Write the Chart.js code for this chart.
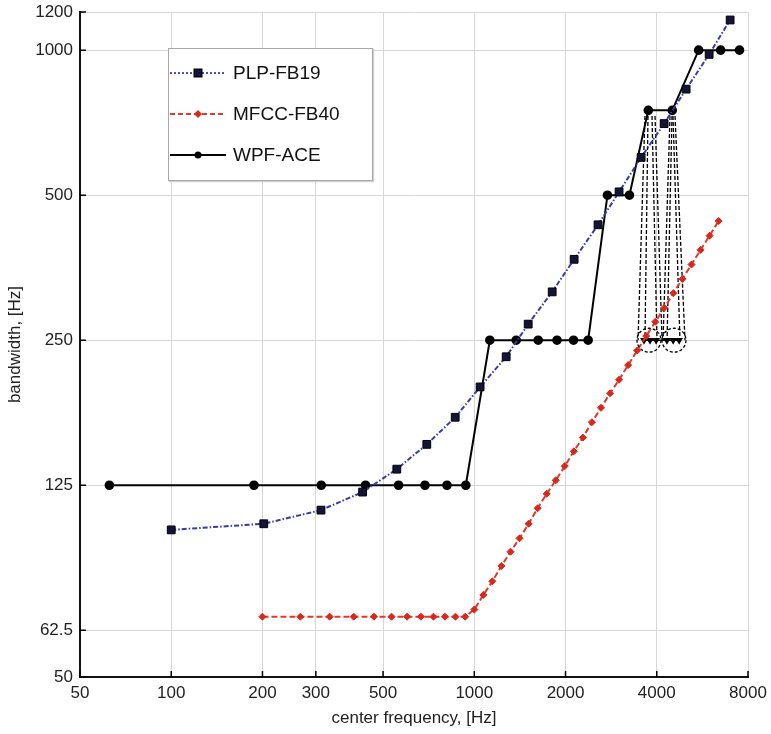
<!DOCTYPE html>
<html><head><meta charset="utf-8">
<script src="https://cdn.jsdelivr.net/npm/chart.js@4/dist/chart.umd.min.js"></script>
<style>
html,body{margin:0;padding:0;background:#fff;}
#wrap{position:relative;width:771px;height:734px;}
#legend{position:absolute;left:168px;top:48px;width:203px;height:131px;border:1px solid #a8a8a8;background:#fff;font-family:"Liberation Sans",Arial,sans-serif;font-size:19px;color:#111;box-shadow:1px 1px 1px #d0d0d0;}
.row{position:absolute;left:0;height:24px;display:flex;align-items:center;}
.row svg{margin-left:1px;display:block;}
.row span{margin-left:7px;line-height:24px;}
</style></head>
<body><div id="wrap"><canvas id="c" width="771" height="734"></canvas><div id="legend"></div></div>
<script>
// ---- axis ticks ----
const xTicks = [50,100,200,300,500,1000,2000,4000,8000];
const yTicks = [50,62.5,125,250,500,1000,1200];

// ---- series: center frequency [Hz] / bandwidth [Hz] ----
const seriesNames = ['PLP-FB19','MFCC-FB40','WPF-ACE'];

const plpFreq = [100,202,312,428,555,697,865,1045,1274,1506,1807,2135,2560,3004,3552,4230,5000,5955,6985];
const plpBw   = [101,104,111,121,135,152,173,200,231,270,315,368,434,508,599,704,830,980,1155];

const mfccFreq = [200,266.7,333.3,400,466.7,533.3,600,666.7,733.3,800,866.7,933.3,
                  1000,1071,1147,1229,1317,1410,1511,1618,1733,1857,1989,2130,2282,2444,
                  2618,2805,3004,3218,3447,3692,3955,4237,4538,4861,5207,5578,5975,6400];
const mfccBw   = [66.7,66.7,66.7,66.7,66.7,66.7,66.7,66.7,66.7,66.7,66.7,66.7,
                  69,74,79,85,91,97,104,112,120,128,137,147,157,169,
                  181,194,207,222,238,255,273,292,313,335,359,385,412,442];

const wpfFreq = [62.5,187.5,312.5,437.5,562.5,687.5,812.5,937.5,
                 1125,1375,1625,1875,2125,2375,2750,3250,3750,4500,5500,6500,7500];
const wpfBw   = [125,125,125,125,125,125,125,125,
                 250,250,250,250,250,250,500,500,750,750,1000,1000,1000];

// zoomed-in sub-bands of the two 750 Hz bands
const subFreq = [3630,3800,3980,4320,4530,4740];
const subBw   = [250,250,250,250,250,250];
const circleFreq = [3770,4560];
const circleBw   = [250,250];
const funnelTopFreq    = [3657,3742,3858,3947,4423,4491,4525,4595];
const funnelBottomFreq = [3469,3657,4008,4163,4195,4325,4771,4956];
const funnelTopBw = 730;
const funnelBottomBw = 250;

const FONT = '"Liberation Sans", Arial, sans-serif';
const toPts = (xs, ys) => xs.map((v, i) => ({x: v, y: ys[i]}));

const funnelSets = funnelTopFreq.map((t, i) => ({
  label: 'funnel' + i,
  data: [{x: t, y: funnelTopBw}, {x: funnelBottomFreq[i], y: funnelBottomBw}],
  showLine: true, borderColor: '#000', borderWidth: 1.3, borderDash: [4,2],
  pointRadius: 0, fill: false
}));

const innerTicks = {
  id: 'innerTicks',
  afterDatasetsDraw(chart) {
    const {ctx, scales: {x, y}} = chart;
    const a = chart.chartArea;
    ctx.save();
    ctx.strokeStyle = '#000'; ctx.lineWidth = 1.5;
    ctx.beginPath();
    xTicks.forEach(v => { const px = x.getPixelForValue(v); ctx.moveTo(px, a.bottom); ctx.lineTo(px, a.bottom - 6); });
    yTicks.forEach(v => { const py = y.getPixelForValue(v); ctx.moveTo(a.left, py); ctx.lineTo(a.left + 6, py); });
    ctx.stroke();
    // dashed zoom circles
    ctx.lineWidth = 1.3; ctx.setLineDash([3,2]); ctx.strokeStyle = '#000';
    circleFreq.forEach((f, i) => {
      ctx.beginPath();
      ctx.arc(x.getPixelForValue(f), y.getPixelForValue(circleBw[i]), 12, 0, Math.PI * 2);
      ctx.stroke();
    });
    ctx.restore();
  }
};

new Chart(document.getElementById('c'), {
  type: 'scatter',
  data: {
    datasets: [
      { label: seriesNames[0], data: toPts(plpFreq, plpBw), showLine: true,
        borderColor: '#3a3aa6', borderWidth: 2, borderDash: [5,2,1.5,2],
        pointStyle: 'rect', pointRadius: 5.5, pointBackgroundColor: '#14143a', pointBorderColor: '#000', pointBorderWidth: 1 },
      { label: seriesNames[1], data: toPts(mfccFreq, mfccBw), showLine: true,
        borderColor: '#e2382a', borderWidth: 2, borderDash: [6,3],
        pointStyle: 'rectRot', pointRadius: 3.5, pointBackgroundColor: '#d8281c', pointBorderColor: '#d8281c', pointBorderWidth: 1 },
      { label: seriesNames[2], data: toPts(wpfFreq, wpfBw), showLine: true,
        borderColor: '#000', borderWidth: 2,
        pointStyle: 'circle', pointRadius: 3.8, pointBackgroundColor: '#000', pointBorderColor: '#000' },
      { label: 'sub', data: toPts(subFreq, subBw), showLine: true,
        borderColor: '#000', borderWidth: 1.5,
        pointStyle: 'triangle', rotation: 180, pointRadius: 3, pointBackgroundColor: '#000', pointBorderColor: '#000' },
      ...funnelSets
    ]
  },
  options: {
    responsive: false, animation: false,
    layout: { padding: { top: 12, right: 23, left: 0, bottom: 0 } },
    plugins: { legend: { display: false }, tooltip: { enabled: false } },
    scales: {
      x: {
        type: 'logarithmic', min: 50, max: 8000,
        afterBuildTicks: s => { s.ticks = xTicks.map(v => ({value: v})); },
        afterFit: s => { s.height = 57; s.paddingLeft = 0; s.paddingRight = 0; },
        ticks: { callback: v => String(v), autoSkip: false, maxRotation: 0, padding: 6,
                 color: '#222', font: { family: FONT, size: 17 } },
        grid: { color: '#d6d6d6', lineWidth: 1, drawTicks: false },
        border: { color: '#111', width: 2 },
        title: { display: true, text: 'center frequency, [Hz]', color: '#222',
                 font: { family: FONT, size: 17 }, padding: { top: 0, bottom: 5 } }
      },
      y: {
        type: 'logarithmic', min: 50, max: 1200,
        afterBuildTicks: s => { s.ticks = yTicks.map(v => ({value: v})); },
        afterFit: s => { s.width = 80; s.paddingTop = 0; s.paddingBottom = 0; },
        ticks: { callback: v => String(v), autoSkip: false, padding: 7,
                 color: '#222', font: { family: FONT, size: 17 } },
        grid: { color: '#d6d6d6', lineWidth: 1, drawTicks: false },
        border: { color: '#111', width: 2 },
        title: { display: true, text: 'bandwidth, [Hz]', color: '#222',
                 font: { family: FONT, size: 17 }, padding: { top: 5, bottom: 0 } }
      }
    }
  },
  plugins: [innerTicks]
});

// ---- HTML legend ----
const legendSamples = [
  '<svg width="56" height="14"><line x1="0" y1="7" x2="56" y2="7" stroke="#5050b8" stroke-width="2" stroke-dasharray="2,2"/><rect x="24" y="3" width="8" height="8" fill="#14143a" stroke="#000"/></svg>',
  '<svg width="56" height="14"><line x1="0" y1="7" x2="56" y2="7" stroke="#e2382a" stroke-width="2" stroke-dasharray="5,3"/><polygon points="28,3 32,7 28,11 24,7" fill="#d8281c"/></svg>',
  '<svg width="56" height="14"><line x1="0" y1="7" x2="56" y2="7" stroke="#000" stroke-width="2"/><circle cx="28" cy="7" r="3.5" fill="#000"/></svg>'
];
const rowTops = [12, 53, 94];
const lg = document.getElementById('legend');
seriesNames.forEach((n, i) => {
  const r = document.createElement('div');
  r.className = 'row'; r.style.top = rowTops[i] + 'px';
  r.innerHTML = legendSamples[i] + '<span>' + n + '</span>';
  lg.appendChild(r);
});
</script>
</body></html>
